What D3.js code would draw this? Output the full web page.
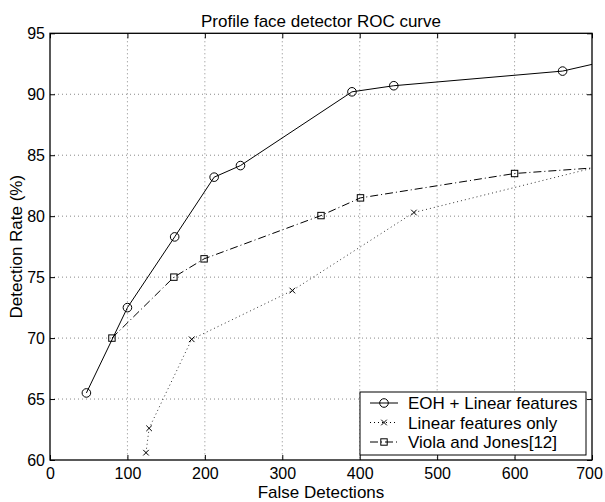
<html>
<head>
    <script src="https://cdnjs.cloudflare.com/ajax/libs/d3/7.8.5/d3.min.js"></script>
    <style>
        body { margin: 0; background: #fff; }
        text { font-family: "Liberation Sans", Arial, Helvetica, sans-serif; fill: #000; }
    </style>
</head>
<body>
<script>
// Data (false detections, detection rate %)
// last point of each series lies past x=700 and is clipped by the axes
var eohX = [47, 100, 161, 212, 246, 390, 444, 662, 800];
var eohY = [65.5, 72.5, 78.3, 83.2, 84.15, 90.2, 90.7, 91.9, 93.9];

var linX = [124, 128, 183, 313, 470, 850];
var linY = [60.6, 62.6, 69.9, 73.9, 80.3, 86.3];

var vjX = [80, 160, 199, 350, 401, 600, 800];
var vjY = [70, 75, 76.5, 80.05, 81.5, 83.5, 84.4];

var seriesNames = ['EOH + Linear features', 'Linear features only', 'Viola and Jones[12]'];
var xTicks = [0, 100, 200, 300, 400, 500, 600, 700];
var yTicks = [60, 65, 70, 75, 80, 85, 90, 95];

// Setup the svg element size and margins
var width = 605, height = 502;
var margin = {top: 33.3, right: 13, bottom: 42, left: 50};
var plotW = width - margin.left - margin.right,
    plotH = height - margin.top - margin.bottom;
var fontSize = 17, tickFont = 16;

var svg = d3.select('body').append('svg')
    .attr('width', width)
    .attr('height', height);

var x = d3.scaleLinear().domain([0, 700]).range([0, plotW]);
var y = d3.scaleLinear().domain([60, 95]).range([plotH, 0]);

var g = svg.append('g')
    .attr('transform', 'translate(' + margin.left + ',' + margin.top + ')');

// clip so lines stop at the axes box
g.append('clipPath')
    .attr('id', 'clip')
    .append('rect')
    .attr('width', plotW)
    .attr('height', plotH);

// dotted grid
g.append('g').selectAll('line')
    .data(xTicks.slice(1, -1))
    .enter().append('line')
    .attr('x1', function(d) { return x(d); })
    .attr('x2', function(d) { return x(d); })
    .attr('y1', 0)
    .attr('y2', plotH)
    .attr('stroke', '#888')
    .attr('stroke-dasharray', '1,3');

g.append('g').selectAll('line')
    .data(yTicks.slice(1, -1))
    .enter().append('line')
    .attr('y1', function(d) { return y(d); })
    .attr('y2', function(d) { return y(d); })
    .attr('x1', 0)
    .attr('x2', plotW)
    .attr('stroke', '#888')
    .attr('stroke-dasharray', '1,3');

// axes with inward ticks on all four sides
var tickLen = 5;
var xAxis = g.append('g')
    .attr('transform', 'translate(0,' + plotH + ')')
    .call(d3.axisBottom(x).tickValues(xTicks).tickSizeInner(-tickLen).tickSizeOuter(0).tickPadding(8))
    .call(function(a) { a.select('.domain').remove(); });
g.append('g')
    .call(d3.axisTop(x).tickValues(xTicks).tickSizeInner(-tickLen).tickSizeOuter(0).tickFormat(''))
    .call(function(a) { a.select('.domain').remove(); });
g.append('g')
    .call(d3.axisLeft(y).tickValues(yTicks).tickSizeInner(-tickLen).tickSizeOuter(0).tickPadding(5))
    .call(function(a) { a.select('.domain').remove(); });
g.append('g')
    .attr('transform', 'translate(' + plotW + ',0)')
    .call(d3.axisRight(y).tickValues(yTicks).tickSizeInner(-tickLen).tickSizeOuter(0).tickFormat(''))
    .call(function(a) { a.select('.domain').remove(); });

g.selectAll('.tick text')
    .attr('font-size', tickFont)
    .attr('font-family', '"Liberation Sans", Arial, sans-serif');
g.selectAll('.tick line').attr('stroke', '#000');

// keep the last x label inside the window
xAxis.selectAll('.tick text')
    .filter(function(d) { return d === 700; })
    .attr('dx', -3);

// axes box
g.append('rect')
    .attr('width', plotW)
    .attr('height', plotH)
    .attr('fill', 'none')
    .attr('stroke', '#000')
    .attr('stroke-width', 1.3);

// the three curves
var line = d3.line()
    .x(function(d) { return x(d[0]); })
    .y(function(d) { return y(d[1]); });

var series = [
    {pts: d3.zip(eohX, eohY), dash: null, mark: 'o'},
    {pts: d3.zip(linX, linY), dash: '1,3', mark: 'x'},
    {pts: d3.zip(vjX, vjY), dash: '8,3,1,3', mark: 's'}
];

var curves = g.append('g').attr('clip-path', 'url(#clip)');

function drawMark(sel, type) {
    if (type === 'o') {
        sel.append('circle').attr('r', 4.3)
            .attr('fill', 'none').attr('stroke', '#000');
    } else if (type === 's') {
        sel.append('rect').attr('x', -3.2).attr('y', -3.2)
            .attr('width', 6.4).attr('height', 6.4)
            .attr('fill', 'none').attr('stroke', '#000');
    } else {
        sel.append('path').attr('d', 'M-2.8,-2.8L2.8,2.8M-2.8,2.8L2.8,-2.8')
            .attr('stroke', '#000');
    }
}

series.forEach(function(s) {
    curves.append('path')
        .datum(s.pts)
        .attr('d', line)
        .attr('fill', 'none')
        .attr('stroke', s.mark === 'x' ? '#333' : '#000')
        .attr('stroke-dasharray', s.dash);

    curves.selectAll(null)
        .data(s.pts)
        .enter().append('g')
        .attr('transform', function(d) { return 'translate(' + x(d[0]) + ',' + y(d[1]) + ')'; })
        .each(function() { drawMark(d3.select(this), s.mark); });
});

// legend box in the lower right
var legend = g.append('g')
    .attr('transform', 'translate(' + (plotW - 232) + ',' + (plotH - 68) + ')');
legend.append('rect')
    .attr('width', 226)
    .attr('height', 63)
    .attr('fill', '#fff')
    .attr('stroke', '#000');

series.forEach(function(s, i) {
    var row = legend.append('g')
        .attr('transform', 'translate(0,' + (11 + i * 19.5) + ')');
    row.append('line')
        .attr('x1', 10).attr('x2', 38)
        .attr('stroke', '#000')
        .attr('stroke-dasharray', s.dash);
    drawMark(row.append('g').attr('transform', 'translate(24,0)'), s.mark);
    row.append('text')
        .attr('x', 48)
        .attr('y', 6)
        .attr('font-size', fontSize)
        .text(seriesNames[i]);
});

// title and axis labels
svg.append('text')
    .attr('x', margin.left + plotW / 2)
    .attr('y', 26.5)
    .attr('text-anchor', 'middle')
    .attr('font-size', fontSize)
    .text('Profile face detector ROC curve');

svg.append('text')
    .attr('x', margin.left + plotW / 2)
    .attr('y', 498)
    .attr('text-anchor', 'middle')
    .attr('font-size', fontSize)
    .text('False Detections');

svg.append('text')
    .attr('transform', 'translate(22,' + (margin.top + plotH / 2) + ') rotate(-90)')
    .attr('text-anchor', 'middle')
    .attr('font-size', fontSize)
    .text('Detection Rate (%)');
</script>
</body>
</html>
